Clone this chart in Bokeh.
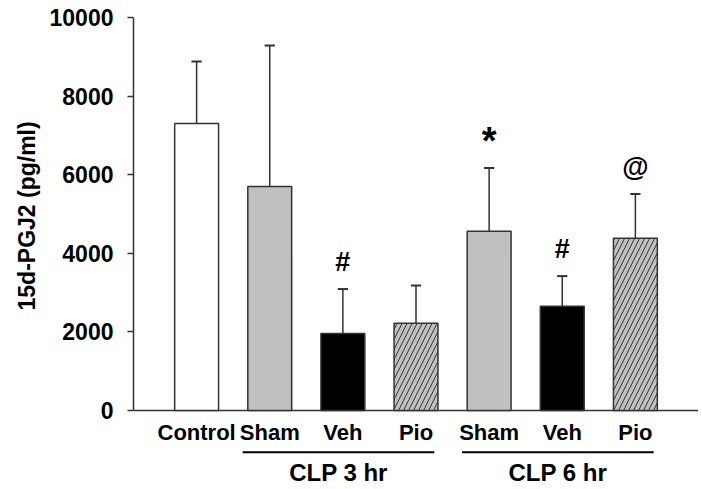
import numpy as np
from bokeh.plotting import figure
from bokeh.models import Range1d, Title, FixedTicker
from bokeh.core.properties import value
from bokeh.embed import file_html
from bokeh.resources import INLINE

# ---- data ----
categories = ["Control", "Sham", "Veh", "Pio", "Sham", "Veh", "Pio"]
means = [7300, 5700, 1960, 2220, 4560, 2650, 4380]
errors = [1580, 3590, 1130, 960, 1610, 770, 1130]
fills = ["white", "#c0c0c0", "black", "#c0c0c0", "#c0c0c0", "black", "#c0c0c0"]
hatches = [" ", " ", " ", "/", " ", " ", "/"]
marks = ["", "", "#", "", "*", "#", "@"]
groups = ["CLP 3 hr", "CLP 6 hr"]
group_first = [1, 4]
group_last = [3, 6]
y_ticks = [0, 2000, 4000, 6000, 8000, 10000]
y_title = "15d-PGJ2 (pg/ml)"

FONT = value("Liberation Sans")
xs = np.arange(len(categories))

p = figure(width=698, height=488, output_backend="svg", toolbar_location=None,
           x_range=Range1d(-0.863, 6.863), y_range=Range1d(-1985, 10000),
           min_border_left=133, min_border_right=0, min_border_top=17, min_border_bottom=0)
p.outline_line_color = None
p.xgrid.visible = False
p.ygrid.visible = False
p.xaxis.visible = False
p.background_fill_color = "white"

ya = p.yaxis[0]
ya.bounds = (0, 10000)
ya.ticker = FixedTicker(ticks=y_ticks)
ya.minor_tick_line_color = None
ya.major_tick_in = 0
ya.major_tick_out = 6
ya.axis_line_width = 1.5
ya.major_tick_line_width = 1.5
ya.axis_line_color = "#333333"
ya.major_tick_line_color = "#333333"
ya.major_label_text_font = "Liberation Sans"
ya.major_label_text_font_style = "bold"
ya.major_label_text_font_size = "23px"
ya.major_label_text_color = "black"
ya.major_label_standoff = 14

# baseline
p.segment(x0=[-0.863], y0=[0], x1=[6.863], y1=[0], line_color="#333333", line_width=1.5)

# error bars (upper only)
tops = [m + e for m, e in zip(means, errors)]
p.segment(x0=xs, y0=means, x1=xs, y1=tops, line_color="#333333", line_width=1.5)
p.segment(x0=xs - 0.07, y0=tops, x1=xs + 0.07, y1=tops, line_color="#333333", line_width=2)

# bars
p.vbar(x=xs, top=means, bottom=0, width=0.6, fill_color=fills, line_color="#333333",
       line_width=1.5, hatch_pattern=hatches, hatch_color="#333333", hatch_scale=10,
       hatch_weight=1)

# significance marks
mark_sizes = ["38px" if m == "*" else "27px" for m in marks]
p.text(x=xs, y=[t + 680 for t in tops], text=marks, text_font=FONT, text_font_style="bold",
       text_font_size=mark_sizes, text_align="center", text_baseline="middle",
       text_color="black")

# category labels
p.text(x=xs, y=[-560] * len(xs), text=categories, text_font=FONT, text_font_style="bold",
       text_font_size="22px", text_align="center", text_baseline="middle", text_color="black")

# group lines and labels
gx0 = [f - 0.37 for f in group_first]
gx1 = [l + 0.25 for l in group_last]
p.segment(x0=gx0, y0=[-1060] * 2, x1=gx1, y1=[-1060] * 2, line_color="black", line_width=2)
p.text(x=[(a + b) / 2 for a, b in zip(gx0, gx1)], y=[-1580] * 2, text=groups, text_font=FONT,
       text_font_style="bold", text_font_size="24px", text_align="center",
       text_baseline="middle", text_color="black")

# y title
p.add_layout(Title(text=y_title, align="left", offset=178, standoff=14,
                   text_font="Liberation Sans", text_font_style="bold",
                   text_font_size="23px", text_color="black"), "left")

open("out.html", "w").write(file_html(p, INLINE))
